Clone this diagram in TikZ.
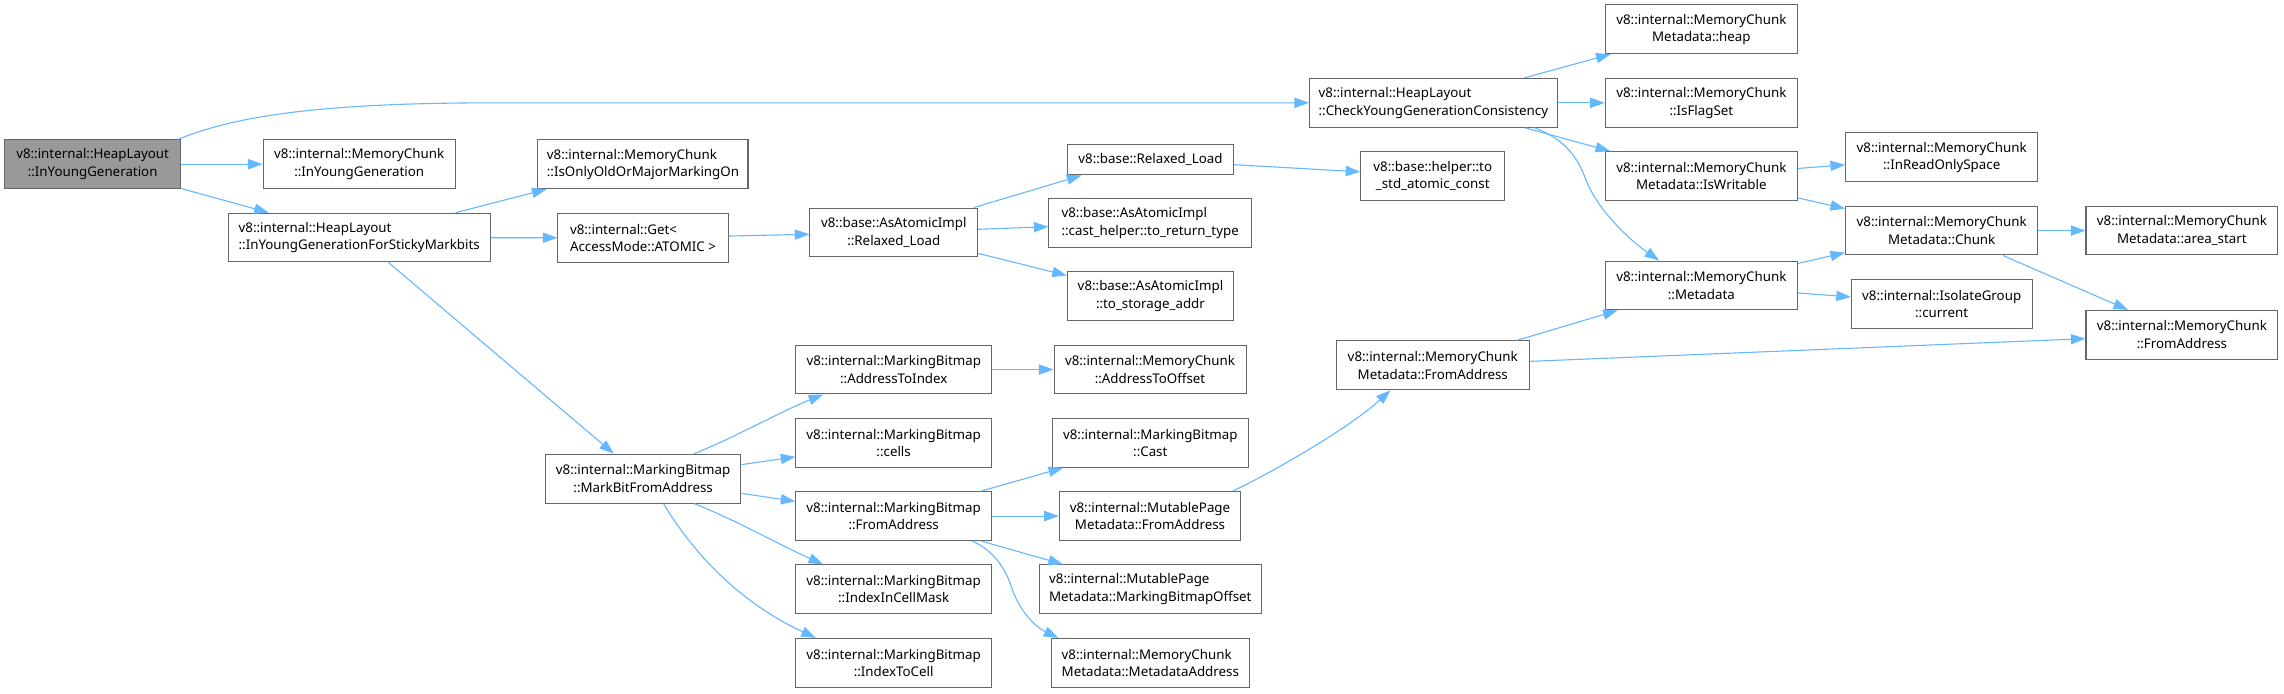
\documentclass[tikz,border=0pt]{standalone}
\usepackage{fontspec}
\setmainfont{Noto Sans}
\usetikzlibrary{arrows.meta,calc}
\definecolor{edgec}{HTML}{63B8FF}
\definecolor{boxc}{HTML}{666666}
\definecolor{grayfill}{HTML}{999999}
\begin{document}
\begin{tikzpicture}[x=1pt,y=-1pt,
  fn/.style={draw=boxc, line width=0.7pt, fill=white, minimum height=33.5pt,
    inner xsep=1pt, inner ysep=2pt, font=\fontsize{9.15}{12}\selectfont, align=center},
  fnl/.style={fn, align=left},
  edge/.style={draw=edgec, line width=0.75pt, -{Triangle[length=10pt,width=7pt]}}]
\useasboundingbox[fill=white] (0,0) rectangle (1568,476);

% nodes
\node[fn, fill=grayfill, minimum width=121pt] (A) at (63.6,112.7) {v8::internal::HeapLayout\\::InYoungGeneration};
\node[fn, minimum width=132pt] (B) at (246.6,112.7) {v8::internal::MemoryChunk\\::InYoungGeneration};
\node[fnl, minimum width=179.6pt] (C) at (246.6,163.1) {v8::internal::HeapLayout\\::InYoungGenerationForStickyMarkbits};
\node[fnl, minimum width=144.2pt] (D) at (441.4,112.8) {v8::internal::MemoryChunk\\::IsOnlyOldOrMajorMarkingOn};
\node[fnl, minimum width=116.8pt] (E) at (441.4,163.3) {v8::internal::Get<\\AccessMode::ATOMIC >};
\node[fn, minimum width=115.2pt] (F) at (613.6,159.6) {v8::base::AsAtomicImpl\\::Relaxed\_Load};
\node[fn, minimum width=114.1pt, minimum height=20.6pt] (G) at (789.8,109.8) {v8::base::Relaxed\_Load};
\node[fnl, minimum width=139pt] (H) at (789.6,153) {v8::base::AsAtomicImpl\\::cast\_helper::to\_return\_type};
\node[fn, minimum width=114.1pt] (I) at (789.8,203.3) {v8::base::AsAtomicImpl\\::to\_storage\_addr};
\node[fn, minimum width=98.8pt] (J) at (983.6,120.8) {v8::base::helper::to\\\_std\_atomic\_const};
\node[fnl, minimum width=170pt] (K) at (984,70.6) {v8::internal::HeapLayout\\::CheckYoungGenerationConsistency};
\node[fn, minimum width=132pt] (L) at (1168,20.1) {v8::internal::MemoryChunk\\Metadata::heap};
\node[fn, minimum width=132pt] (M) at (1168,70.6) {v8::internal::MemoryChunk\\::IsFlagSet};
\node[fn, minimum width=132pt] (N) at (1168,120.8) {v8::internal::MemoryChunk\\Metadata::IsWritable};
\node[fn, minimum width=132pt] (O) at (1333,108) {v8::internal::MemoryChunk\\::InReadOnlySpace};
\node[fn, minimum width=132pt] (P) at (1333,158.3) {v8::internal::MemoryChunk\\Metadata::Chunk};
\node[fn, minimum width=131.7pt] (Q) at (1497.9,158.3) {v8::internal::MemoryChunk\\Metadata::area\_start};
\node[fn, minimum width=132pt] (R) at (1168,196) {v8::internal::MemoryChunk\\::Metadata};
\node[fn, minimum width=124pt] (S) at (1333,208.7) {v8::internal::IsolateGroup\\::current};
\node[fn, minimum width=131.7pt] (T) at (1497.9,229.8) {v8::internal::MemoryChunk\\::FromAddress};
\node[fn, minimum width=132.2pt] (U) at (983.6,250.8) {v8::internal::MemoryChunk\\Metadata::FromAddress};
\node[fn, minimum width=134.2pt] (V) at (441.5,328.6) {v8::internal::MarkingBitmap\\::MarkBitFromAddress};
\node[fn, minimum width=134.3pt] (W) at (613.6,253.7) {v8::internal::MarkingBitmap\\::AddressToIndex};
\node[fn, minimum width=134.2pt] (X) at (613.5,304) {v8::internal::MarkingBitmap\\::cells};
\node[fn, minimum width=134.2pt] (Y) at (613.5,354.3) {v8::internal::MarkingBitmap\\::FromAddress};
\node[fn, minimum width=134.2pt] (Z) at (613.5,404.5) {v8::internal::MarkingBitmap\\::IndexInCellMask};
\node[fn, minimum width=134.2pt] (AA) at (613.5,455) {v8::internal::MarkingBitmap\\::IndexToCell};
\node[fn, minimum width=131.8pt] (AB) at (789.5,253.7) {v8::internal::MemoryChunk\\::AddressToOffset};
\node[fn, minimum width=134.2pt] (AC) at (789.7,304) {v8::internal::MarkingBitmap\\::Cast};
\node[fn, minimum width=124.6pt] (AD) at (789.5,354.3) {v8::internal::MutablePage\\Metadata::FromAddress};
\node[fnl, minimum width=152.4pt] (AE) at (789.7,404.5) {v8::internal::MutablePage\\Metadata::MarkingBitmapOffset};
\node[fnl, minimum width=135.6pt] (AF) at (789.7,455) {v8::internal::MemoryChunk\\Metadata::MetadataAddress};

% edges
\coordinate (Kbend) at (340,70.6);
\draw[edge] ($(A.north east)+(-2,0)$) .. controls (165,78) and (230,70.6) .. (Kbend) -- (K.west);
\draw[edge] (A) -- (B);
\draw[edge] (A) -- (C);
\draw[edge] (C) -- (D);
\draw[edge] (C) -- (E);
\draw[edge] (C) -- (V);
\draw[edge] (E) -- (F);
\draw[edge] ($(F.north east)+(-3,0)$) -- ($(G.south west)+(10,0)$);
\draw[edge] (F) -- (H);
\draw[edge] (F) -- (I);
\draw[edge] (G) -- (J);
\draw[edge] (K) -- (L);
\draw[edge] (K) -- (M);
\draw[edge] (K) -- (N);
\draw[edge] ($(K.south east)+(-16,0)$) .. controls (1075,96) and (1083,108) .. (1089,124)
   .. controls (1096,142) and (1115,162) .. ($(R.north)+(-29,0)$);
\draw[edge] (N) -- (O);
\draw[edge] (N) -- (P);
\draw[edge] (P) -- (Q);
\draw[edge] ($(P.south)+(42,0)$) -- ($(T.north)+(-37,0)$);
\draw[edge] (R) -- (P);
\draw[edge] (R) -- (S);
\draw[edge] (U) -- (R);
\draw[edge] (U) -- (T);
\draw[edge] ($(AD.north east)+(-6,0)$) .. controls (870,326) and (925,295) .. ($(U.south)+(-29,0)$);
\draw[edge] ($(V.north)+(35,0)$) .. controls (505,300) and (535,283) .. ($(W.south west)+(19,0)$);
\draw[edge] (V) -- (X);
\draw[edge] (V) -- (Y);
\draw[edge] ($(V.south)+(35,0)$) .. controls (505,357) and (535,374) .. ($(Z.north west)+(19,0)$);
\draw[edge] ($(V.south)+(14,0)$) .. controls (470,370) and (500,410) .. ($(AA.north west)+(14,0)$);
\draw[edge] (W) -- (AB);
\draw[edge] (Y) -- (AC);
\draw[edge] (Y) -- (AD);
\draw[edge] (Y) -- (AE);
\draw[edge] ($(Y.south east)+(-13.4,0)$) .. controls (682,378) and (690,390) .. (694,402)
   .. controls (699,418) and (710,430) .. ($(AF.north west)+(5,0)$);
\end{tikzpicture}
\end{document}
